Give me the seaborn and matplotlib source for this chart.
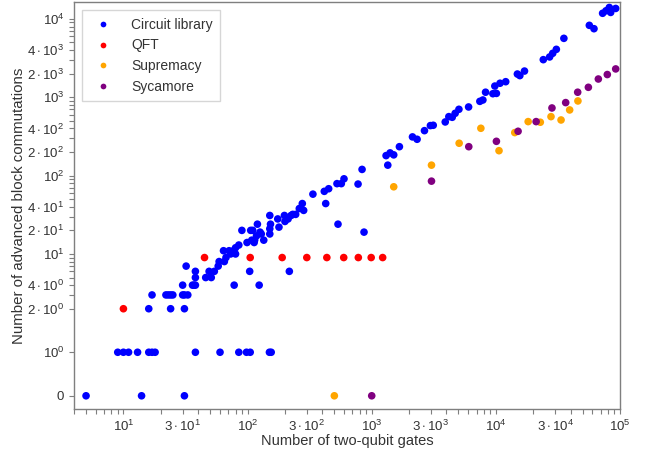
import matplotlib
matplotlib.use("Agg")
import matplotlib.pyplot as plt
import numpy as np
import pandas as pd
import seaborn as sns
from matplotlib.ticker import FixedLocator, FixedFormatter, NullFormatter

# ---------------- data ----------------
lib_x = [5, 14, 31,
         9, 10, 11, 13, 16, 17, 18, 38, 60, 85, 98, 105, 150, 155,
         16, 24, 31,
         17, 22, 23, 24, 25, 30, 31, 33,
         30, 36, 37, 38, 78, 124,
         38, 46, 51,
         38, 49, 54, 104, 217,
         32, 58,
         59, 65,
         67, 73, 80, 64, 71, 77, 80, 85, 99, 113, 108, 114, 135, 118, 129, 151,
         126, 90, 106, 110, 151, 179, 120, 153, 200, 175, 212, 151, 198, 224, 231,
         244, 261, 283, 276, 426, 336, 415, 450, 525, 569, 776, 598, 836, 1347,
         1305, 1504, 1406, 1671, 535, 867,
         2130, 2320, 2660, 2970, 3130, 3910, 4180, 4450, 4700, 5040, 6030, 7430,
         7860, 8260, 9460, 10100, 9810, 10800, 12000, 14900, 15600, 17000, 24100,
         27100, 28700, 30700, 35300, 56600, 61700, 72400, 84100, 77100, 82000, 92300]
lib_y = [0, 0, 0,
         1, 1, 1, 1, 1, 1, 1, 1, 1, 1, 1, 1, 1, 1,
         2, 2, 2,
         3, 3, 3, 3, 3, 3, 3, 3,
         4, 4, 4, 4, 4, 4,
         5, 5, 5,
         6, 6, 6, 6, 6,
         7, 7,
         8, 8,
         9, 10, 10, 11, 11, 11, 12, 13, 14, 14, 15, 15, 15, 17, 18, 18,
         19, 20, 20, 20, 21, 22, 24, 24, 26, 28, 28, 31, 31, 31, 32,
         32, 38, 36, 44, 44, 58, 63, 68, 79, 79, 78, 91, 120, 136,
         180, 184, 195, 234, 24, 19,
         312, 291, 375, 435, 439, 484, 566, 555, 624, 702, 752, 887,
         923, 1160, 1110, 1120, 1390, 1510, 1580, 1980, 1890, 2160, 3020,
         3270, 3640, 4090, 5650, 8280, 7500, 11800, 12100, 12700, 14000, 13600]

qft_x = [10, 45, 105, 190, 300, 435, 595, 780, 990, 1225]
qft_y = [2, 9, 9, 9, 9, 9, 9, 9, 9, 9]

sup_x = [500, 1504, 3030, 5060, 7570, 10600, 14200, 18200, 22800, 27800, 33500, 39300, 45800]
sup_y = [0, 72, 136, 259, 402, 208, 354, 489, 480, 566, 513, 689, 897]

syc_x = [1000, 3030, 6050, 10100, 15100, 21100, 28300, 36500, 45600, 55600, 66900, 79000, 92300]
syc_y = [0, 85, 234, 274, 368, 489, 730, 855, 1160, 1340, 1710, 1950, 2300]

series_names = ["Circuit library", "QFT", "Supremacy", "Sycamore"]
series_colors = ["blue", "red", "orange", "purple"]

x_major = [10, 30, 100, 300, 1000, 3000, 10000, 30000, 100000]
x_labels = [r"$10^{1}$", r"$3\cdot10^{1}$", r"$10^{2}$", r"$3\cdot10^{2}$", r"$10^{3}$",
            r"$3\cdot10^{3}$", r"$10^{4}$", r"$3\cdot10^{4}$", r"$10^{5}$"]
y_major = [0, 1, 2, 4, 10, 20, 40, 100, 200, 400, 1000, 2000, 4000, 10000]
y_labels = ["0", r"$10^{0}$", r"$2\cdot10^{0}$", r"$4\cdot10^{0}$",
            r"$10^{1}$", r"$2\cdot10^{1}$", r"$4\cdot10^{1}$",
            r"$10^{2}$", r"$2\cdot10^{2}$", r"$4\cdot10^{2}$",
            r"$10^{3}$", r"$2\cdot10^{3}$", r"$4\cdot10^{3}$", r"$10^{4}$"]

x_label = "Number of two-qubit gates"
y_label = "Number of advanced block commutations"

# ---------------- frame ----------------
frames = []
for name, xs, ys in zip(series_names, [lib_x, qft_x, sup_x, syc_x], [lib_y, qft_y, sup_y, syc_y]):
    frames.append(pd.DataFrame({"gates": xs, "comm": ys, "set": name}))
df = pd.concat(frames, ignore_index=True)

sns.set_style("white")
plt.rcParams["font.family"] = ["Liberation Sans", "DejaVu Sans"]
plt.rcParams["mathtext.fontset"] = "custom"
plt.rcParams["mathtext.rm"] = "Liberation Sans"
plt.rcParams["mathtext.it"] = "Liberation Sans:italic"
plt.rcParams["mathtext.bf"] = "Liberation Sans:bold"

text_col = "#333333"
spine_col = "#7f7f7f"

fig = plt.figure(figsize=(6.47, 4.54), dpi=100)
ax = fig.add_axes([0.1144, 0.0985, 0.8439, 0.896])

sns.scatterplot(data=df, x="gates", y="comm", hue="set", hue_order=series_names,
                palette=dict(zip(series_names, series_colors)), s=30, linewidth=0,
                ax=ax)

ax.set_xscale("log")
ax.set_yscale("symlog", linthresh=2, linscale=1)
ax.set_xlim(4, 100000)
ax.set_ylim(-0.31, 16200)

ax.xaxis.set_major_locator(FixedLocator(x_major))
ax.xaxis.set_major_formatter(FixedFormatter(x_labels))
x_minor = [m * 10.0 ** e for e in range(0, 5) for m in [2, 4, 5, 6, 7, 8, 9]]
ax.xaxis.set_minor_locator(FixedLocator(x_minor))
ax.xaxis.set_minor_formatter(NullFormatter())

ax.yaxis.set_major_locator(FixedLocator(y_major))
ax.yaxis.set_major_formatter(FixedFormatter(y_labels))
y_minor = [m * 10.0 ** e for e in range(0, 4) for m in [3, 5, 6, 7, 8, 9]]
ax.yaxis.set_minor_locator(FixedLocator(y_minor))
ax.yaxis.set_minor_formatter(NullFormatter())

for sp in ax.spines.values():
    sp.set_color(spine_col)
    sp.set_linewidth(1.0)
ax.tick_params(which="both", direction="out", length=3.5, width=0.8,
               color=spine_col, labelcolor=text_col, labelsize=9.5,
               bottom=True, left=True, top=False, right=False)

ax.set_xlabel(x_label, fontsize=10.5, color=text_col, labelpad=0)
ax.set_ylabel(y_label, fontsize=10.8, color=text_col, labelpad=1)

leg = ax.legend(loc="upper left", frameon=True, fontsize=10, markerscale=0.75,
                borderaxespad=0.55, handletextpad=1.0, labelspacing=0.48,
                borderpad=0.55, fancybox=False)
leg.get_frame().set_edgecolor("#cccccc")
leg.get_frame().set_linewidth(1.0)
for t in leg.get_texts():
    t.set_color(text_col)

fig.savefig("out.png", dpi=100)
